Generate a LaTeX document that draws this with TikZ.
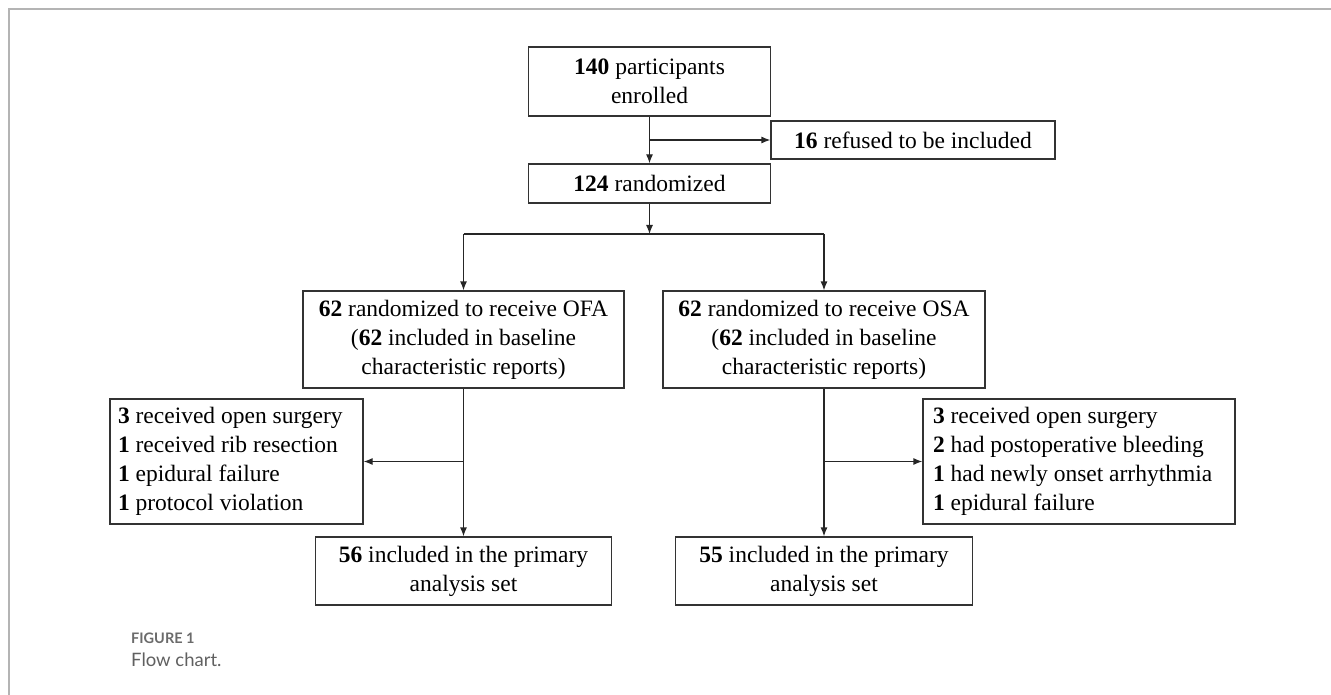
\documentclass[tikz,border=0pt]{standalone}
\usepackage{fontspec}
\setmainfont{Liberation Serif}
\newfontfamily\capfont{Lato}
\usetikzlibrary{positioning}
\usetikzlibrary{arrows.meta}
\usepackage{xcolor}
\definecolor{framegray}{HTML}{B4B4B4}
\definecolor{capgray}{HTML}{6B6B6B}

\begin{document}
\begin{tikzpicture}[x=1pt, y=-1pt,
    flowbox/.style={draw=black!80, line width=1.2pt, inner sep=0pt, align=center,
        font=\fontsize{23.5}{29}\selectfont},
    listbox/.style={flowbox, align=flush left},
    link/.style={black!85, line width=1.2pt},
    >={Latex[length=9pt,width=7pt]}]
\useasboundingbox (0,0) rectangle (1331,695);
\draw[framegray, line width=2pt] (1331,9) -- (9,9) -- (9,695);

% Boxes
\node[flowbox, minimum width=242pt, minimum height=69pt] (enrol) at (649.5,81.5) {\textbf{140} participants\\enrolled};
\node[flowbox, minimum width=284pt, minimum height=38pt] (refuse) at (913,140) {\textbf{16} refused to be included};
\node[flowbox, minimum width=242pt, minimum height=39pt] (rand) at (649.5,183.5) {\textbf{124} randomized};
\node[flowbox, minimum width=321pt, minimum height=97pt] (ofa) at (463.5,339.5) {\textbf{62} randomized to receive OFA\\(\textbf{62} included in baseline\\characteristic reports)};
\node[flowbox, minimum width=322pt, minimum height=97pt] (osa) at (824,339.5) {\textbf{62} randomized to receive OSA\\(\textbf{62} included in baseline\\characteristic reports)};
\node[listbox, inner xsep=8pt, text width=237pt, minimum height=125pt] (exl) at (236.5,461.5) {\textbf{3} received open surgery\\\textbf{1} received rib resection\\\textbf{1} epidural failure\\\textbf{1} protocol violation};
\node[listbox, inner xsep=10pt, text width=292pt, minimum height=125pt] (exr) at (1079,461.5) {\textbf{3} received open surgery\\\textbf{2} had postoperative bleeding\\\textbf{1} had newly onset arrhythmia\\\textbf{1} epidural failure};
\node[flowbox, minimum width=296pt, minimum height=68pt] (anl) at (463.5,571) {\textbf{56} included in the primary\\analysis set};
\node[flowbox, minimum width=297pt, minimum height=68pt] (anr) at (824,571) {\textbf{55} included in the primary\\analysis set};

% Arrows
\draw[link,->] (enrol) -- (rand);
\coordinate (refjoin) at (enrol.south |- refuse.west);
\draw[link,->] (refjoin) -- (refuse.west);
\coordinate (split) at (649.5,234);
\draw[link,->] (rand) -- (split);
\draw[link] (ofa.north |- split) -- (osa.north |- split);
\draw[link,->] (ofa.north |- split) -- (ofa.north);
\draw[link,->] (osa.north |- split) -- (osa.north);
\draw[link,->] (ofa) -- (anl);
\draw[link,->] (osa) -- (anr);
\coordinate (ltap) at (ofa.south |- exl.east);
\coordinate (rtap) at (osa.south |- exr.west);
\draw[link,->] (ltap) -- (exl.east);
\draw[link,->] (rtap) -- (exr.west);

% Caption
\node[anchor=base west, inner sep=0pt, text=capgray,
    font={\capfont\fontsize{14.5}{17}\selectfont\bfseries}] (figlabel) at (131,643) {FIGURE 1};
\node[anchor=base west, inner sep=0pt, text=capgray!90!black,
    font={\capfont\fontsize{18.5}{22}\selectfont}] (figtitle) at (131,666) {Flow chart.};
\end{tikzpicture}
\end{document}
